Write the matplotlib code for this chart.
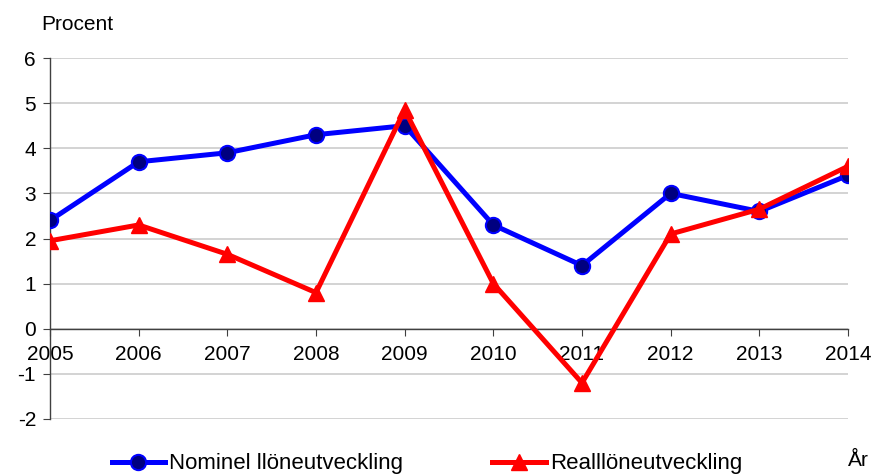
import matplotlib
matplotlib.use("Agg")
import matplotlib.pyplot as plt

plt.rcParams['font.family'] = ['Liberation Sans', 'DejaVu Sans']
plt.rcParams['axes.unicode_minus'] = False

# data
years = [2005, 2006, 2007, 2008, 2009, 2010, 2011, 2012, 2013, 2014]
nominal = [2.4, 3.7, 3.9, 4.3, 4.5, 2.3, 1.4, 3.0, 2.6, 3.4]
real = [1.95, 2.3, 1.65, 0.8, 4.85, 1.0, -1.2, 2.1, 2.65, 3.6]
yticks = [-2, -1, 0, 1, 2, 3, 4, 5, 6]

fig = plt.figure(figsize=(8.73, 4.75), dpi=100)
ax = fig.add_axes([50 / 873, 56 / 475, 798 / 873, 361 / 475])

ax.plot(years, nominal, color='#0000ff', lw=3.6, marker='o', ms=11,
        mfc='#000080', mec='#0000ff', mew=1.5, label='Nominel llöneutveckling', zorder=3)
ax.plot(years, real, color='#ff0000', lw=3.6, marker='^', ms=12,
        mfc='#ff0000', mec='#ff0000', label='Realllöneutveckling', zorder=4)

ax.set_xlim(years[0], years[-1])
ax.set_ylim(-2, 6)
ax.set_yticks(yticks)
ax.set_xticks(years)
ax.grid(axis='y', color='#d0d0d0', lw=1.3)
ax.set_axisbelow(True)

ax.spines['top'].set_visible(False)
ax.spines['right'].set_visible(False)
ax.spines['bottom'].set_position(('data', 0))
for s in ['left', 'bottom']:
    ax.spines[s].set_color('#404040')
    ax.spines[s].set_linewidth(1.0)

ax.tick_params(axis='both', labelsize=15, length=5, color='#404040', direction='out')
ax.tick_params(axis='y', pad=5)
ax.tick_params(axis='x', pad=7)

fig.text(41 / 873, 1 - 25 / 475, 'Procent', fontsize=15, va='center', ha='left')
fig.text(848 / 873, 1 - 460 / 475, 'År', fontsize=15, va='center', ha='left')

fig.legend(loc='center', bbox_to_anchor=(427 / 873, 1 - 464 / 475), ncol=2,
           frameon=False, fontsize=16, handlelength=2.4, columnspacing=4.0,
           handletextpad=0.2, borderaxespad=0)

fig.savefig('out.png', dpi=100)
